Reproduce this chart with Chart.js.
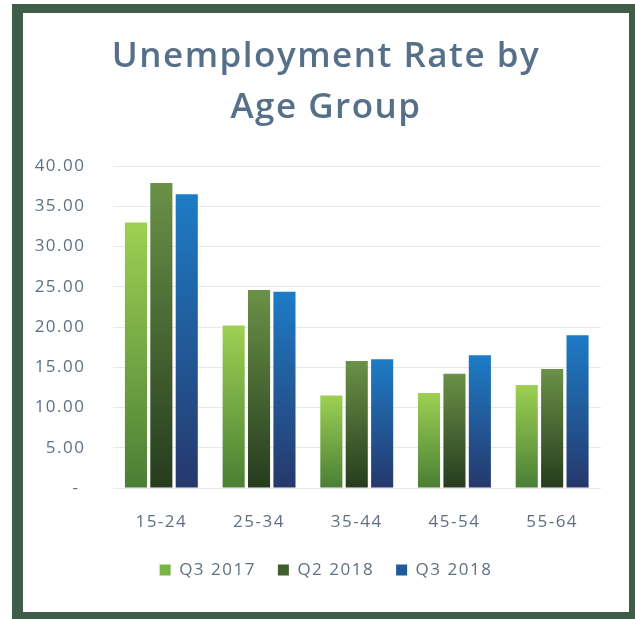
<!DOCTYPE html>
<html>
<head>
<meta charset="utf-8">
<title>Unemployment Rate by Age Group</title>
<script src="https://cdn.jsdelivr.net/npm/chart.js@4/dist/chart.umd.min.js"></script>
<style>
  html, body { margin: 0; padding: 0; background: #fff; }
  #frame {
    position: absolute; left: 12px; top: 4px;
    width: 623px; height: 615px;
    background: #3e5e49;
  }
  #inner {
    position: absolute; left: 23px; top: 13px;
    width: 606px; height: 599px;
    background: #fff;
  }
</style>
</head>
<body>
<div id="frame"></div>
<div id="inner"><canvas id="chart" width="606" height="599"></canvas></div>
<script>
const ageGroups = ['15-24', '25-34', '35-44', '45-54', '55-64'];
const q3_2017 = [33.0, 20.2, 11.5, 11.8, 12.8];
const q2_2018 = [37.9, 24.6, 15.8, 14.2, 14.8];
const q3_2018 = [36.5, 24.4, 16.0, 16.5, 19.0];
const yTicks = [0, 5, 10, 15, 20, 25, 30, 35, 40];

const textColor = '#5f7084';
const font = '"Open Sans", "Noto Sans", sans-serif';

// vertical gradient running from the top of each bar down to the axis
function barGradient(top, bottom) {
  return (ctx) => {
    const chart = ctx.chart;
    const y = chart.scales.y;
    if (!y || ctx.raw === undefined) return bottom;
    const g = chart.ctx.createLinearGradient(0, y.getPixelForValue(ctx.raw), 0, y.getPixelForValue(0));
    g.addColorStop(0, top);
    g.addColorStop(1, bottom);
    return g;
  };
}

// text in the original is set a little wider than the canvas default
const letterSpacing = {
  id: 'letterSpacing',
  beforeLayout(chart) { chart.ctx.letterSpacing = '1.5px'; },
  beforeDraw(chart) { chart.ctx.letterSpacing = '1.5px'; }
};

const series = [
  { label: 'Q3 2017', data: q3_2017, top: '#9dd052', bottom: '#4a7f35', legend: '#7ab446' },
  { label: 'Q2 2018', data: q2_2018, top: '#6b9147', bottom: '#253c1e', legend: '#3f5f2d' },
  { label: 'Q3 2018', data: q3_2018, top: '#1d7cc6', bottom: '#26386c', legend: '#1f5a9c' }
];

new Chart(document.querySelector('#chart').getContext('2d'), {
  type: 'bar',
  data: {
    labels: ageGroups,
    datasets: series.map(s => ({
      label: s.label,
      data: s.data,
      backgroundColor: barGradient(s.top, s.bottom),
      borderWidth: 0,
      categoryPercentage: 0.78,
      barPercentage: 0.87
    }))
  },
  plugins: [letterSpacing],
  options: {
    responsive: false,
    animation: false,
    layout: { padding: { left: 0, right: 0, top: 0, bottom: 23.5 } },
    plugins: {
      tooltip: { enabled: false },
      title: {
        display: true,
        text: ['Unemployment Rate by', 'Age Group'],
        color: '#56708a',
        font: { family: font, size: 35, weight: '600', lineHeight: 1.46 },
        padding: { top: 18, bottom: 33 }
      },
      legend: {
        position: 'bottom',
        labels: {
          color: textColor,
          font: { family: font, size: 17 },
          boxWidth: 11,
          boxHeight: 11,
          padding: 22,
          generateLabels: () => series.map((s, i) => ({
            text: s.label,
            fillStyle: s.legend,
            strokeStyle: s.legend,
            lineWidth: 0,
            fontColor: textColor,
            datasetIndex: i
          }))
        }
      }
    },
    scales: {
      x: {
        grid: { display: false },
        border: { display: false },
        ticks: { color: textColor, font: { family: font, size: 17 }, padding: 16 },
        afterFit: (scale) => { scale.height = 51.5; }
      },
      y: {
        min: 0,
        max: 40,
        afterBuildTicks: (scale) => { scale.ticks = yTicks.map(v => ({ value: v })); },
        grid: { color: '#e5e9ed', drawTicks: false },
        border: { display: false },
        ticks: {
          color: textColor,
          font: { family: font, size: 17 },
          padding: 27,
          callback: (v) => v === 0 ? '- ' : v.toFixed(2)
        },
        afterFit: (scale) => { scale.width = 89.5; }
      },
      // empty right-hand margin so title and legend stay centred on the card
      margin: {
        position: 'right',
        grid: { display: false },
        border: { display: false },
        ticks: { display: false },
        afterFit: (scale) => { scale.width = 28; }
      }
    }
  }
});
</script>
</body>
</html>
